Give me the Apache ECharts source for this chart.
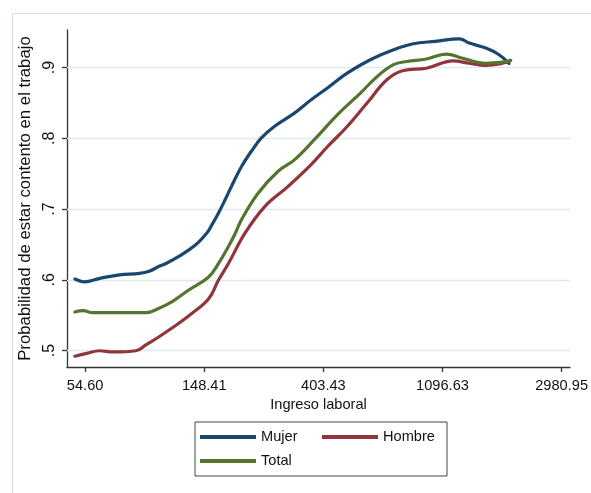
<!DOCTYPE html>
<html>
<head>
<meta charset="utf-8">
<script src="https://cdn.jsdelivr.net/npm/echarts@6/dist/echarts.min.js"></script>
<style>
html,body{margin:0;padding:0;background:#fff;}
#chart{width:591px;height:493px;}
</style>
</head>
<body>
<div id="chart"></div>
<script>
// ln(ingreso laboral) tick positions and their labels (exp values)
const xTickValues = [4, 5, 6, 7, 8];
const xTickLabels = ["54.60", "148.41", "403.43", "1096.63", "2980.95"];
const yTickValues = [0.5, 0.6, 0.7, 0.8, 0.9];
const yTickLabels = [".5", ".6", ".7", ".8", ".9"];

const seriesNames = ["Mujer", "Hombre", "Total"];

// Mujer
const mujerX = [3.914,3.998,4.122,4.288,4.455,4.538,4.621,4.679,4.787,4.926,5.022,5.064,5.120,5.175,5.230,5.313,5.397,5.480,5.591,5.757,5.895,6.034,6.200,6.394,6.589,6.755,6.942,7.142,7.225,7.364,7.475,7.558];
const mujerY = [0.601,0.597,0.602,0.607,0.609,0.612,0.619,0.623,0.633,0.649,0.666,0.6775,0.6945,0.713,0.7325,0.760,0.782,0.8005,0.817,0.8355,0.854,0.871,0.892,0.911,0.925,0.9335,0.937,0.9405,0.9345,0.9274,0.918,0.906];

// Hombre
const hombreX = [3.914,4.012,4.122,4.233,4.427,4.510,4.621,4.787,4.898,5.037,5.120,5.203,5.342,5.508,5.702,5.895,6.034,6.200,6.367,6.533,6.672,6.865,7.087,7.225,7.364,7.503,7.572];
const hombreY = [0.492,0.496,0.4997,0.498,0.4997,0.508,0.5195,0.5385,0.5526,0.573,0.5997,0.623,0.6658,0.7034,0.7317,0.7624,0.788,0.8166,0.8497,0.8826,0.8958,0.899,0.9095,0.906,0.903,0.906,0.910];

// Total
const totalX = [3.914,3.983,4.066,4.344,4.510,4.621,4.731,4.870,5.037,5.120,5.203,5.259,5.313,5.452,5.618,5.757,5.924,6.117,6.311,6.450,6.589,6.700,6.865,7.032,7.170,7.364,7.503,7.572];
const totalY = [0.5545,0.5563,0.5535,0.5535,0.5535,0.5597,0.569,0.5856,0.604,0.623,0.647,0.665,0.685,0.7223,0.753,0.7695,0.798,0.833,0.8638,0.887,0.904,0.9085,0.912,0.919,0.913,0.906,0.9076,0.910];

const colors = ["#1a476f", "#90353b", "#55752f"];
const FONT = "'Liberation Sans', Arial, sans-serif";

function pairs(xs, ys) { return xs.map((x, i) => [x, ys[i]]); }

const chart = echarts.init(document.getElementById('chart'), null, {renderer: 'canvas'});

function lineSeries(name, xs, ys, color) {
  return {
    name: name,
    type: 'line',
    data: pairs(xs, ys),
    showSymbol: false,
    symbol: 'none',
    smooth: 0.4,
    z: 3,
    lineStyle: {color: color, width: 3.2, cap: 'round', join: 'round'},
    itemStyle: {color: color},
    animation: false
  };
}

chart.setOption({
  animation: false,
  backgroundColor: '#ffffff',
  graphic: [{
    type: 'rect',
    left: 10, top: 11,
    shape: {width: 580, height: 490},
    style: {fill: 'none', stroke: '#d7dfe0', lineWidth: 1},
    silent: true, z: -1
  }],
  grid: {left: 67, right: 16, top: 30, bottom: 126, containLabel: false},
  xAxis: {
    type: 'value',
    min: 3.848, max: 8.07,
    name: 'Ingreso laboral',
    nameLocation: 'middle',
    nameGap: 27,
    nameTextStyle: {fontFamily: FONT, fontSize: 14.6, color: '#111'},
    axisLine: {show: true, onZero: false, lineStyle: {color: '#333', width: 1.3}},
    axisTick: {show: true, length: 5, customValues: xTickValues, lineStyle: {color: '#333', width: 1.3}},
    axisLabel: {
      customValues: xTickValues,
      margin: 11,
      fontFamily: FONT, fontSize: 14.6, color: '#111',
      formatter: v => xTickLabels[xTickValues.indexOf(v)]
    },
    splitLine: {show: false}
  },
  yAxis: {
    type: 'value',
    min: 0.4767, max: 0.953,
    name: 'Probabilidad de estar contento en el trabajo',
    nameLocation: 'middle',
    nameGap: 25,
    nameTextStyle: {fontFamily: FONT, fontSize: 16.8, color: '#111'},
    axisLine: {show: true, onZero: false, lineStyle: {color: '#333', width: 1.3}},
    axisTick: {show: true, length: 5, customValues: yTickValues, lineStyle: {color: '#333', width: 1.3}},
    axisLabel: {
      customValues: yTickValues,
      rotate: 90,
      margin: 9,
      fontFamily: FONT, fontSize: 16, color: '#111',
      formatter: v => yTickLabels[yTickValues.indexOf(v)]
    },
    splitLine: {show: false}
  },
  legend: {
    data: seriesNames,
    left: 195, top: 422,
    width: 240,
    orient: 'horizontal',
    padding: [6, 9, 6, 5],
    itemGap: 6,
    itemWidth: 56, itemHeight: 4,
    icon: 'rect',
    borderColor: '#444', borderWidth: 1, borderRadius: 0,
    textStyle: {fontFamily: FONT, fontSize: 14.6, color: '#111', width: 55, lineHeight: 18},
    selectedMode: false
  },
  series: [
    {
      name: 'grid', type: 'line', data: [], z: 1, silent: true,
      markLine: {
        z: 1,
        silent: true, symbol: ['none', 'none'], animation: false,
        label: {show: false},
        lineStyle: {color: '#dfeaeb', width: 1.3, type: 'solid'},
        data: yTickValues.map(v => ({yAxis: v}))
      }
    },
    lineSeries("Mujer", mujerX, mujerY, colors[0]),
    lineSeries("Hombre", hombreX, hombreY, colors[1]),
    lineSeries("Total", totalX, totalY, colors[2])
  ]
});
</script>
</body>
</html>
